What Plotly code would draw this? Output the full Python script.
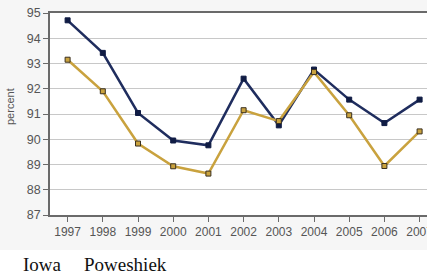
import plotly.graph_objects as go

years = ["1997", "1998", "1999", "2000", "2001", "2002", "2003", "2004", "2005", "2006", "2007"]
iowa = [94.71, 93.42, 91.04, 89.95, 89.76, 92.40, 90.55, 92.76, 91.57, 90.64, 91.57]
poweshiek = [93.15, 91.90, 89.83, 88.93, 88.64, 91.15, 90.72, 92.66, 90.95, 88.94, 90.31]
y_ticks = [87, 88, 89, 90, 91, 92, 93, 94, 95]

W, H = 427, 277
ML, MR, MT, MB = 50, 0, 13, 62
PH = H - MT - MB
PW = W - ML - MR


def py(pix):
    return (MT + PH - pix) / PH


def px(pix):
    return (pix - ML) / PW


def bg_rect(x0, y0, x1, y1):
    return dict(type="rect", xref="paper", yref="paper", x0=px(x0), x1=px(x1),
                y0=py(y1), y1=py(y0), fillcolor="#f6f6f6", line=dict(width=0), layer="below")


fig = go.Figure()
fig.add_trace(go.Scatter(
    x=years, y=iowa, mode="lines+markers", name="Iowa",
    line=dict(color="#1f2d5e", width=2.5),
    marker=dict(symbol="square", size=5, color="#101c44", line=dict(color="#101c44", width=1)),
))
fig.add_trace(go.Scatter(
    x=years, y=poweshiek, mode="lines+markers", name="Poweshiek",
    line=dict(color="#c9a23e", width=2.5),
    marker=dict(symbol="square", size=5, color="#c9a23e", line=dict(color="#3a3020", width=1)),
))

fig.update_layout(
    width=W, height=H,
    margin=dict(l=ML, r=MR, t=MT, b=MB, pad=0, autoexpand=False),
    paper_bgcolor="white",
    plot_bgcolor="white",
    showlegend=False,
    font=dict(family="Liberation Sans, Arial, sans-serif", color="#555555", size=12),
    shapes=[bg_rect(0, 0, W, MT), bg_rect(0, MT, ML, MT + PH), bg_rect(0, MT + PH, W, 250)],
    annotations=[
        dict(text="percent", textangle=-90, xref="paper", yref="paper",
             x=px(10), y=py(107), xanchor="center", yanchor="middle",
             showarrow=False, font=dict(size=11, color="#555555")),
        dict(text="Iowa", xref="paper", yref="paper",
             x=px(21), y=py(264), xanchor="left", yanchor="middle",
             showarrow=False, font=dict(family="Liberation Serif, Times New Roman, serif", size=19, color="#111111")),
        dict(text="Poweshiek", xref="paper", yref="paper",
             x=px(82), y=py(264), xanchor="left", yanchor="middle",
             showarrow=False, font=dict(family="Liberation Serif, Times New Roman, serif", size=19, color="#111111")),
    ],
)

fig.update_xaxes(
    type="category", range=[-0.5, -0.5 + PW / 35.2], automargin=False,
    showgrid=False, showline=True, linecolor="#6a6a6a", linewidth=1.5,
    mirror=True, ticks="outside", ticklen=5, tickcolor="#6a6a6a",
    tickfont=dict(size=12, color="#555555"), zeroline=False,
)
fig.update_yaxes(
    range=[87, 95], tickvals=y_ticks, automargin=False,
    showgrid=True, gridcolor="#c8c8c8", gridwidth=1,
    showline=True, linecolor="#6a6a6a", linewidth=1.5,
    ticks="outside", ticklen=5, tickcolor="#6a6a6a",
    tickfont=dict(size=12.5, color="#555555"), zeroline=False,
)

fig.write_html("out.html", config={"displayModeBar": False},
               post_script="document.body.style.margin='0';document.body.style.overflow='hidden';")
